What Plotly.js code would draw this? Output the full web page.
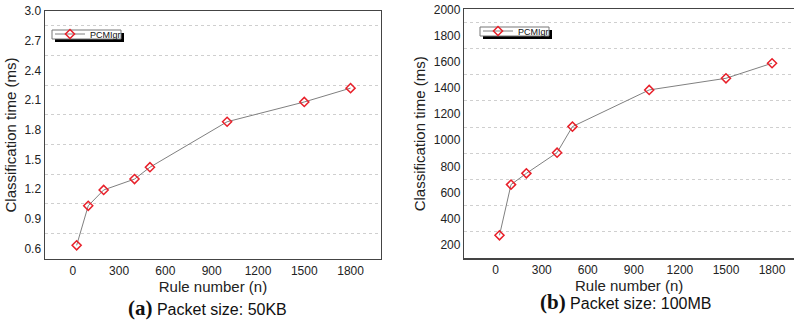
<!DOCTYPE html>
<html><head><meta charset="utf-8">
<script src="https://cdn.plot.ly/plotly-3.0.1.min.js"></script>
<style>html,body{margin:0;padding:0;background:#fff;}</style>
</head><body><div id="chart" style="width:794px;height:322px;"></div>
<script>
const ruleNumbers = [25, 100, 200, 400, 500, 1000, 1500, 1800];
const time50KB = [0.63, 1.03, 1.19, 1.30, 1.42, 1.88, 2.08, 2.22];
const time100MB = [274, 661, 747, 905, 1104, 1384, 1473, 1588];
const xTicks = [0, 300, 600, 900, 1200, 1500, 1800];
const seriesName = 'PCMIgr';

const W = 794, H = 322;
const font = 'Liberation Sans, Arial, sans-serif';
const marker = {symbol: 'diamond-open', size: 7, color: '#e8202a', line: {width: 1.5, color: '#e8202a'}};
const line = {color: '#808080', width: 1};

const traces = [
  {x: ruleNumbers, y: time50KB, name: seriesName, mode: 'lines+markers', marker, line, xaxis: 'x', yaxis: 'y', legend: 'legend'},
  {x: ruleNumbers, y: time100MB, name: seriesName, mode: 'lines+markers', marker, line, xaxis: 'x2', yaxis: 'y2', legend: 'legend2'}
];

const axisCommon = {
  showline: true, linecolor: '#444', linewidth: 1.5, ticks: '', zeroline: false,
  tickfont: {family: font, size: 12, color: '#222'}, showgrid: false
};

const legendCommon = {
  bgcolor: 'rgba(0,0,0,0)', borderwidth: 0, font: {family: font, size: 9, color: '#111'},
  xanchor: 'left', yanchor: 'top', itemwidth: 30, tracegroupgap: 0
};

// legend frame + drop shadow (pixel boxes converted to paper fractions)
function box(x0, y0, x1, y1, fill, lineColor) {
  return {type: 'rect', xref: 'paper', yref: 'paper', x0: x0 / W, x1: x1 / W, y0: 1 - y1 / H, y1: 1 - y0 / H,
    fillcolor: fill, line: {color: lineColor, width: lineColor ? 1 : 0}, layer: 'below'};
}

const layout = {
  width: W, height: H, margin: {l: 0, r: 0, t: 0, b: 0},
  paper_bgcolor: '#fff', plot_bgcolor: 'rgba(0,0,0,0)', showlegend: true,
  xaxis: Object.assign({}, axisCommon, {domain: [0.0567, 0.4798], range: [-180, 1997], tickvals: xTicks, mirror: true, anchor: 'y',
    title: {text: 'Rule number (n)', font: {family: font, size: 15, color: '#222'}, standoff: 0}}),
  yaxis: Object.assign({}, axisCommon, {domain: [0.1957, 0.9658], range: [0.492, 3.0], tick0: 0.6, dtick: 0.3, tickformat: '.1f', mirror: true, anchor: 'x',
    minor: {tick0: 0.75, dtick: 0.3, showgrid: true, gridcolor: '#cfcfcf', griddash: 'dot', gridwidth: 1},
    title: {text: 'Classification time (ms)', font: {family: font, size: 15, color: '#222'}, standoff: 4}}),
  xaxis2: Object.assign({}, axisCommon, {domain: [0.5848, 1.0], range: [-204, 1943], tickvals: xTicks, mirror: true, anchor: 'y2',
    title: {text: 'Rule number (n)', font: {family: font, size: 15, color: '#222'}, standoff: 0}}),
  yaxis2: Object.assign({}, axisCommon, {domain: [0.1978, 0.9711], range: [98, 2000], tick0: 200, dtick: 200, mirror: false, anchor: 'x2',
    minor: {tick0: 100, dtick: 200, showgrid: true, gridcolor: '#cfcfcf', griddash: 'dot', gridwidth: 1},
    title: {text: 'Classification time (ms)', font: {family: font, size: 15, color: '#222'}, standoff: 4}}),
  legend: Object.assign({}, legendCommon, {x: 50 / W, y: 1 - 19.5 / H}),
  legend2: Object.assign({}, legendCommon, {x: 478 / W, y: 1 - 16.5 / H}),
  shapes: [
    box(55, 33, 124, 42, '#000', null), box(52, 30, 121, 39, '#fff', '#777'),
    box(483, 30, 552, 39, '#000', null), box(480, 27, 549, 36, '#fff', '#777')
  ],
  annotations: [
    {xref: 'paper', yref: 'paper', x: 207 / W, y: 1 - 308 / H, showarrow: false, xanchor: 'center', yanchor: 'middle',
     text: '<span style="font-family:Liberation Serif;font-weight:bold;font-size:21px">(a)</span> Packet size: 50KB',
     font: {family: font, size: 16, color: '#111'}},
    {xref: 'paper', yref: 'paper', x: 626 / W, y: 1 - 302 / H, showarrow: false, xanchor: 'center', yanchor: 'middle',
     text: '<span style="font-family:Liberation Serif;font-weight:bold;font-size:21px">(b)</span> Packet size: 100MB',
     font: {family: font, size: 16, color: '#111'}}
  ]
};

Plotly.newPlot('chart', traces, layout, {displayModeBar: false, staticPlot: true});
</script></body></html>
